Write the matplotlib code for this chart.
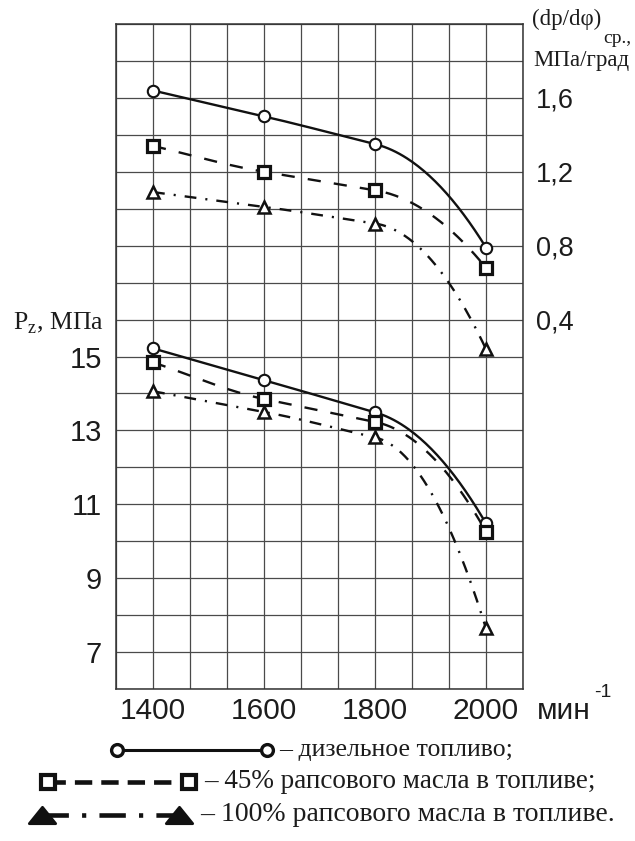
import numpy as np
import matplotlib
matplotlib.use("Agg")
import matplotlib.pyplot as plt
from matplotlib.ticker import FixedLocator, MultipleLocator
from matplotlib.lines import Line2D
from matplotlib.path import Path

# --- data -------------------------------------------------------------
rpm = [1400, 1600, 1800, 2000]

# average pressure rise rate, MPa/deg (right scale)
dp_diesel = [1.64, 1.50, 1.35, 0.79]
dp_rape45 = [1.34, 1.20, 1.10, 0.68]
dp_rape100 = [1.09, 1.01, 0.92, 0.24]

# maximum combustion pressure, MPa (left scale)
pz_diesel = [15.22, 14.36, 13.49, 10.48]
pz_rape45 = [14.84, 13.85, 13.23, 10.26]
pz_rape100 = [14.06, 13.50, 12.81, 7.64]

x_tick_labels = ["1400", "1600", "1800", "2000"]
pz_ticks = [7, 9, 11, 13, 15]
dp_ticks = [0.4, 0.8, 1.2, 1.6]
dp_tick_labels = ["0,4", "0,8", "1,2", "1,6"]
legend_labels = ["– дизельное топливо;",
                 "– 45% рапсового масла в топливе;",
                 "– 100% рапсового масла в топливе."]

plt.rcParams["lines.scale_dashes"] = False
SANS = "Liberation Sans"
SERIF = "Liberation Serif"
INK = "#1c1c1c"


def smooth(x, y, n=60):
    """Piecewise cubic Hermite curve through the points (drawing aid)."""
    x = np.asarray(x, float)
    y = np.asarray(y, float)
    h = np.diff(x)
    d = np.diff(y) / h
    m = np.empty_like(y)
    m[0] = d[0]
    for i in range(1, len(x) - 1):
        m[i] = d[i - 1] if abs(d[i - 1]) < abs(d[i]) else d[i]
    m[-1] = 2 * d[-1] - d[-2]
    xs, ys = [], []
    for i in range(len(x) - 1):
        t = np.linspace(0, 1, n, endpoint=(i == len(x) - 2))
        h00 = 2 * t**3 - 3 * t**2 + 1
        h10 = t**3 - 2 * t**2 + t
        h01 = -2 * t**3 + 3 * t**2
        h11 = t**3 - t**2
        xs.append(x[i] + t * h[i])
        ys.append(h00 * y[i] + h10 * h[i] * m[i] + h01 * y[i + 1] + h11 * h[i] * m[i + 1])
    return np.concatenate(xs), np.concatenate(ys)


W, H = 635, 841
fig = plt.figure(figsize=(W / 100, H / 100), dpi=100)
fig.patch.set_facecolor("white")

ax = fig.add_axes([116 / W, (H - 689) / H, 407 / W, 665 / H])
step = 200 / 3
ax.set_xlim(1400 - step, 2000 + step)
ax.set_ylim(6, 24)

ax.xaxis.set_major_locator(FixedLocator(rpm))
ax.set_xticklabels(x_tick_labels)
ax.xaxis.set_minor_locator(MultipleLocator(step))
ax.yaxis.set_major_locator(FixedLocator(pz_ticks))
ax.yaxis.set_minor_locator(MultipleLocator(1))
ax.grid(which="both", color="#4a4a4a", lw=0.9)
ax.set_axisbelow(True)
ax.tick_params(which="both", length=0)
ax.tick_params(axis="x", pad=6, labelsize=21.5, labelcolor=INK)
ax.tick_params(axis="y", pad=10, labelsize=21, labelcolor=INK)
for lab in ax.get_xticklabels() + ax.get_yticklabels():
    lab.set_fontfamily(SANS)
for s in ax.spines.values():
    s.set_color("#333333")
    s.set_linewidth(1.1)

ax2 = ax.twinx()
ax2.set_ylim(-1.6, 2.0)
ax2.yaxis.set_major_locator(FixedLocator(dp_ticks))
ax2.set_yticklabels(dp_tick_labels)
ax2.tick_params(axis="y", length=0, pad=9.5, labelsize=19.5, labelcolor=INK)
for lab in ax2.get_yticklabels():
    lab.set_fontfamily(SANS)
for s in ax2.spines.values():
    s.set_visible(False)

styles = {
    "diesel": dict(ls="-", marker="o", ms=8.2, mew=1.5),
    "rape45": dict(ls=(0, (9.5, 9.5)), marker="s", ms=9.3, mew=2.3),
    "rape100": dict(ls=(0, (8.5, 6.5, 1.5, 6.5)), marker="^", ms=9.0, mew=1.8),
}

for axis, series in ((ax, (pz_diesel, pz_rape45, pz_rape100)),
                     (ax2, (dp_diesel, dp_rape45, dp_rape100))):
    for vals, key in zip(series, ("diesel", "rape45", "rape100")):
        st = styles[key]
        xs, ys = smooth(rpm, vals)
        axis.plot(xs, ys, color="#111111", lw=1.7, ls=st["ls"],
                  solid_capstyle="butt", dash_capstyle="butt", zorder=3)
        axis.plot(rpm, vals, ls="none", marker=st["marker"], ms=st["ms"],
                  mew=st["mew"], mfc="white", mec="#111111", zorder=4)

# --- annotations in pixel coordinates ---------------------------------
ov = fig.add_axes([0, 0, 1, 1])
ov.set_xlim(0, W)
ov.set_ylim(H, 0)
ov.axis("off")

ov.text(13, 329, r"P$_{\mathregular{z}}$, МПа", fontsize=18.5, family=SERIF,
        color=INK, ha="left", va="baseline")
ov.text(532, 25, "(dp/dφ)", fontsize=16.5, family=SERIF, color=INK,
        ha="left", va="baseline")
ov.text(603, 43, "ср.,", fontsize=14, family=SERIF, color=INK,
        ha="left", va="baseline")
ov.text(533, 66, "МПа/град", fontsize=16.5, family=SERIF, color=INK,
        ha="left", va="baseline")
ov.text(537, 719, "мин", fontsize=21.5, family=SANS, color=INK,
        ha="left", va="baseline")
ov.text(594, 697, "-1", fontsize=14, family=SANS, color=INK,
        ha="left", va="baseline")

# legend
tri = Path([(-1, -0.62), (1, -0.62), (0, 0.62), (-1, -0.62)],
           [Path.MOVETO, Path.LINETO, Path.LINETO, Path.CLOSEPOLY])
rows = [
    dict(x=(117, 267), y=750, ls="-", lw=2.2, marker="o", ms=8.5, mew=2.4,
         mfc="white", tx=279, fs=18.5),
    dict(x=(48, 189), y=782, ls=(0, (12.5, 6.5)), lw=3.3, marker="s", ms=9.5, mew=3.0,
         mfc="white", tx=204, fs=19.5),
    dict(x=(42, 179), y=815, ls=(0, (19, 9.5, 3, 9.5)), lw=3.3, marker=tri, ms=19, mew=2.0,
         mfc="#111111", tx=200, fs=20),
]
for row, text in zip(rows, legend_labels):
    ov.add_line(Line2D(row["x"], [row["y"]] * 2, color="#111111", lw=row["lw"],
                       ls=row["ls"], marker=row["marker"], ms=row["ms"],
                       mew=row["mew"], mfc=row["mfc"], mec="#111111",
                       dash_capstyle="butt", solid_capstyle="butt"))
    ov.text(row["tx"], row["y"] + 6, text, fontsize=row["fs"], family=SERIF,
            color=INK, ha="left", va="baseline")

fig.savefig("out.png", dpi=100, facecolor="white")
